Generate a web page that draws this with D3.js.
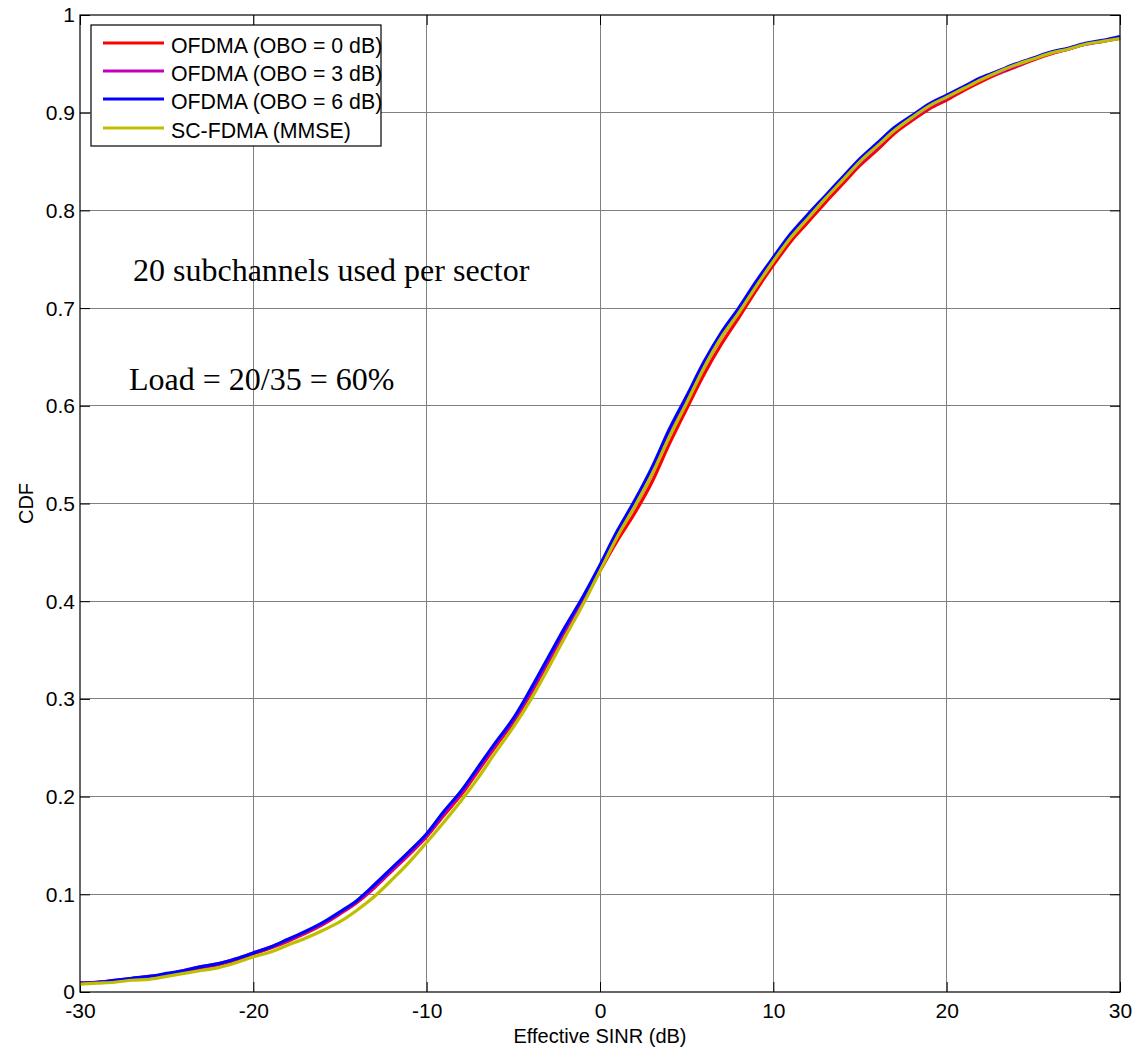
<!DOCTYPE html>
<html>
<head>
<meta charset="utf-8">
<script src="https://cdn.jsdelivr.net/npm/d3@7"></script>
<style>
  html, body { margin: 0; padding: 0; background: #fff; }
  svg { display: block; }
</style>
</head>
<body>
<svg id="chart" width="1133" height="1052"></svg>
<script>
// ---- data ----
const sinr = [-30,-29,-28,-27,-26,-25,-24,-23,-22,-21,
  -20,-19,-18,-17,-16,-15,-14,-13,-12,-11,
  -10,-9,-8,-7,-6,-5,-4,-3,-2,-1,
  0,1,2,3,4,5,6,7,8,9,
  10,11,12,13,14,15,16,17,18,19,
  20,21,22,23,24,25,26,27,28,29,30];

const ofdmaObo0 = [0.009,0.010,0.011,0.013,0.015,0.018,0.021,0.025,0.028,0.033,
  0.039,0.045,0.052,0.060,0.069,0.080,0.092,0.107,0.124,0.141,
  0.159,0.181,0.202,0.227,0.252,0.276,0.305,0.337,0.369,0.398,
  0.431,0.462,0.490,0.522,0.561,0.597,0.632,0.663,0.690,0.718,
  0.744,0.768,0.788,0.808,0.827,0.846,0.862,0.879,0.892,0.904,
  0.913,0.923,0.932,0.940,0.947,0.954,0.960,0.965,0.970,0.973,0.976];

const ofdmaObo3 = [0.009,0.010,0.012,0.014,0.016,0.018,0.022,0.026,0.029,0.034,
  0.040,0.046,0.053,0.061,0.070,0.081,0.093,0.108,0.125,0.142,
  0.160,0.183,0.204,0.229,0.254,0.278,0.307,0.339,0.371,0.401,
  0.434,0.468,0.497,0.530,0.569,0.604,0.639,0.670,0.695,0.722,
  0.748,0.772,0.792,0.812,0.831,0.849,0.865,0.882,0.894,0.906,
  0.915,0.925,0.934,0.941,0.948,0.955,0.961,0.965,0.970,0.973,0.977];

const ofdmaObo6 = [0.009,0.010,0.012,0.014,0.016,0.019,0.022,0.026,0.029,0.034,
  0.040,0.046,0.054,0.062,0.071,0.082,0.094,0.110,0.127,0.144,
  0.162,0.185,0.206,0.231,0.256,0.280,0.310,0.342,0.374,0.404,
  0.437,0.472,0.503,0.537,0.576,0.610,0.645,0.675,0.700,0.727,
  0.752,0.776,0.796,0.815,0.834,0.853,0.869,0.885,0.897,0.909,
  0.918,0.927,0.936,0.943,0.950,0.956,0.962,0.966,0.971,0.974,0.978];

const scfdmaMmse = [0.008,0.009,0.010,0.012,0.013,0.016,0.019,0.022,0.025,0.030,
  0.036,0.041,0.048,0.055,0.063,0.072,0.084,0.098,0.115,0.133,
  0.153,0.174,0.196,0.220,0.246,0.271,0.299,0.331,0.364,0.396,
  0.431,0.466,0.497,0.530,0.568,0.603,0.639,0.670,0.695,0.722,
  0.748,0.772,0.792,0.812,0.831,0.850,0.866,0.882,0.895,0.907,
  0.916,0.925,0.934,0.942,0.949,0.955,0.961,0.965,0.970,0.973,0.976];

const seriesNames = ["OFDMA (OBO = 0 dB)", "OFDMA (OBO = 3 dB)", "OFDMA (OBO = 6 dB)", "SC-FDMA (MMSE)"];
const seriesColors = ["#ff0000", "#bf00bf", "#0000ff", "#bfbf00"];
const seriesValues = [ofdmaObo0, ofdmaObo3, ofdmaObo6, scfdmaMmse];

const xTicks = [-30, -20, -10, 0, 10, 20, 30];
const xTickLabels = ["-30", "-20", "-10", "0", "10", "20", "30"];
const yTicks = [0, 0.1, 0.2, 0.3, 0.4, 0.5, 0.6, 0.7, 0.8, 0.9, 1];
const yTickLabels = ["0", "0.1", "0.2", "0.3", "0.4", "0.5", "0.6", "0.7", "0.8", "0.9", "1"];

const annotations = ["20 subchannels used per sector", "Load = 20/35 = 60%"];

// ---- layout ----
const svg = d3.select("#chart");
const L = 80, R = 1120, T = 15, B = 992;
const x = d3.scaleLinear().domain([-30, 30]).range([L, R]);
const y = d3.scaleLinear().domain([0, 1]).range([B, T]);
const sans = "'Liberation Sans', Arial, Helvetica, sans-serif";
const serif = "'Liberation Serif', 'Times New Roman', serif";

// grid
const grid = svg.append("g");
grid.selectAll("line.vx").data(xTicks.slice(1, -1)).join("line")
  .attr("x1", d => x(d)).attr("x2", d => x(d)).attr("y1", T).attr("y2", B)
  .attr("stroke", "#808080").attr("stroke-width", 1).attr("shape-rendering", "crispEdges");
grid.selectAll("line.hy").data(yTicks.slice(1, -1)).join("line")
  .attr("x1", L).attr("x2", R).attr("y1", d => y(d)).attr("y2", d => y(d))
  .attr("stroke", "#808080").attr("stroke-width", 1).attr("shape-rendering", "crispEdges");

// axes (inward ticks, box)
const axB = svg.append("g").attr("transform", `translate(0,${B})`)
  .call(d3.axisBottom(x).tickValues(xTicks).tickSize(-10).tickPadding(11)
    .tickFormat((d, i) => xTickLabels[i]));
const axT = svg.append("g").attr("transform", `translate(0,${T})`)
  .call(d3.axisTop(x).tickValues(xTicks).tickSize(-10).tickFormat(""));
const axL = svg.append("g").attr("transform", `translate(${L},0)`)
  .call(d3.axisLeft(y).tickValues(yTicks).tickSize(-10).tickPadding(5)
    .tickFormat((d, i) => yTickLabels[i]));
const axR = svg.append("g").attr("transform", `translate(${R},0)`)
  .call(d3.axisRight(y).tickValues(yTicks).tickSize(-10).tickFormat(""));
[axB, axT, axL, axR].forEach(a => {
  a.select(".domain").remove();
  a.selectAll(".tick line").attr("stroke", "#000").attr("stroke-width", 1);
  a.selectAll("text").attr("font-family", sans).attr("font-size", 21).attr("fill", "#000");
});
axB.selectAll("text").attr("dy", "0.71em");
axL.selectAll("text").attr("dy", "0.33em");

// curves
const line = d3.line().x((d, i) => x(sinr[i])).y(d => y(d)).curve(d3.curveMonotoneX);
svg.append("g").selectAll("path").data(seriesValues).join("path")
  .attr("d", d => line(d))
  .attr("fill", "none")
  .attr("stroke", (d, i) => seriesColors[i])
  .attr("stroke-width", 3.2)
  .attr("stroke-linejoin", "round");

// box
svg.append("rect").attr("x", L).attr("y", T).attr("width", R - L).attr("height", B - T)
  .attr("fill", "none").attr("stroke", "#000").attr("stroke-width", 1.2);

// annotations
svg.append("text").attr("x", 133).attr("y", 281).attr("font-family", serif)
  .attr("font-size", 32).attr("fill", "#000").text(annotations[0]);
svg.append("text").attr("x", 129).attr("y", 390).attr("font-family", serif)
  .attr("font-size", 32).attr("fill", "#000").text(annotations[1]);

// axis labels
svg.append("text").attr("x", (L + R) / 2).attr("y", 1043).attr("text-anchor", "middle")
  .attr("font-family", sans).attr("font-size", 20).attr("fill", "#000").text("Effective SINR (dB)");
svg.append("text").attr("transform", `translate(33,${(T + B) / 2}) rotate(-90)`)
  .attr("text-anchor", "middle").attr("font-family", sans).attr("font-size", 20)
  .attr("fill", "#000").text("CDF");

// legend
const lg = svg.append("g");
lg.append("rect").attr("x", 91).attr("y", 25).attr("width", 290).attr("height", 121)
  .attr("fill", "#fff").attr("stroke", "#000").attr("stroke-width", 1.2);
const rowY = [43, 71, 99, 128];
seriesNames.forEach((name, i) => {
  lg.append("line").attr("x1", 103).attr("x2", 164).attr("y1", rowY[i]).attr("y2", rowY[i])
    .attr("stroke", seriesColors[i]).attr("stroke-width", 3);
  lg.append("text").attr("x", 171).attr("y", rowY[i] + 10).attr("font-family", sans)
    .attr("font-size", 21.3).attr("fill", "#000").text(name);
});
</script>
</body>
</html>
